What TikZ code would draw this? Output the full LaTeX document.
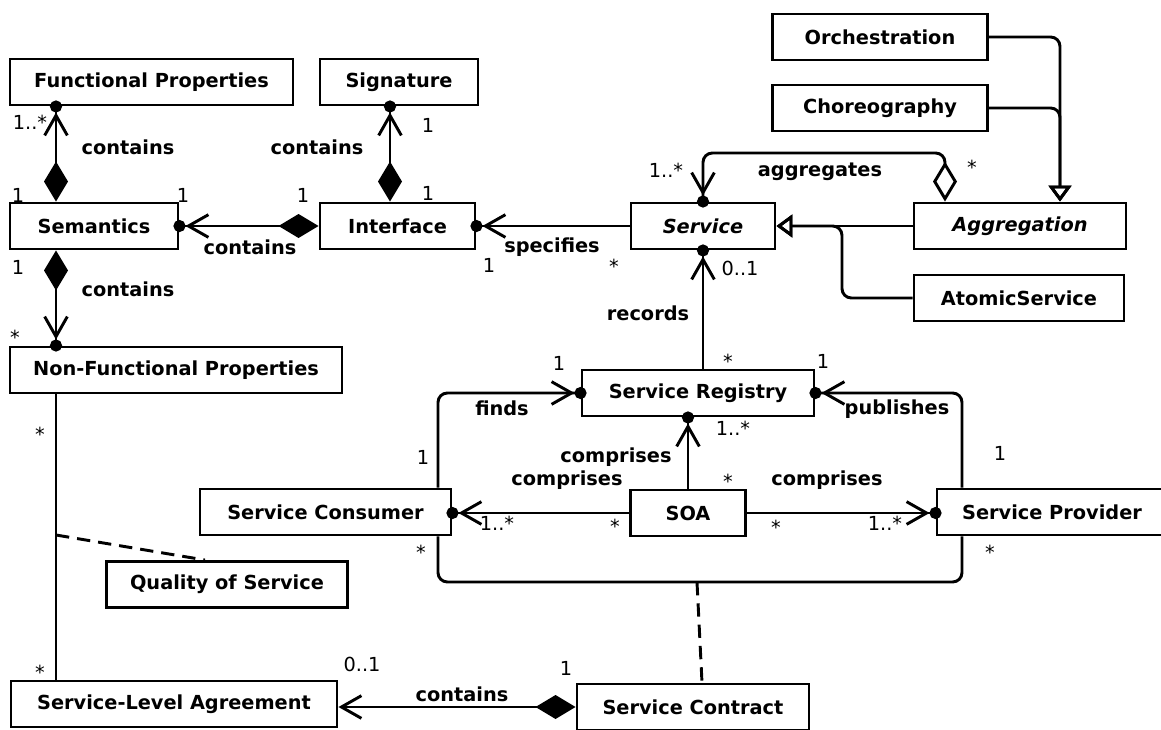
\documentclass[tikz,border=0pt]{standalone}
\usepackage{fontspec}
\setmainfont{DejaVu Sans}
\usetikzlibrary{arrows.meta,calc}

\newcommand{\clsfont}{\fontsize{14.5}{17}\selectfont\bfseries}
\newcommand{\multfont}{\fontsize{14.5}{17}\selectfont}

\tikzset{
  cls/.style={draw, line width=2.2pt, inner sep=0pt, minimum height=34.5pt,
    minimum width=#1*0.75pt, font=\clsfont},
  acls/.style={cls=#1, font=\clsfont\itshape},
  rel/.style={font=\clsfont, inner sep=1pt},
  mult/.style={font=\multfont, inner sep=0pt, anchor=base},
  nav/.style={-{Straight Barb[length=15pt,width=17pt]Circle[length=9pt,sep=-4.5pt]}},
  comp/.style={{Diamond[length=30pt,width=18pt]}-{Straight Barb[length=15pt,width=17pt]Circle[length=9pt,sep=-4.5pt]}},
  aggr/.style={{Diamond[open,length=30pt,width=18pt]}-{Straight Barb[length=15pt,width=17pt]Circle[length=9pt,sep=-4.5pt]}},
  gen/.style={-{Triangle[open,length=12pt,width=17pt]}},
  assocdash/.style={dash pattern=on 10pt off 6pt}
}

\begin{document}
\begin{tikzpicture}[x=0.75pt,y=-0.75pt]
  \useasboundingbox (0,0) rectangle (1161,729);
  \draw
    (151.5,82) node[cls=283] (fp){Functional Properties}
    (399,82) node[cls=158] (sig){Signature}
    (880,37) node[cls=215] (orch){Orchestration}
    (880,108) node[cls=215] (chor){Choreography}
    (94,226) node[cls=168] (sem){Semantics}
    (397.5,226) node[cls=155] (iface){Interface}
    (703,226) node[acls=144] (serv){Service}
    (1020,226) node[acls=212] (agg){Aggregation}
    (1019,298) node[cls=210] (atom){AtomicService}
    (176,370) node[cls=332] (nfp){Non-Functional Properties}
    (698,393) node[cls=232] (reg){Service Registry}
    (325.5,512) node[cls=251] (cons){Service Consumer}
    (688,513) node[cls=115] (soa){SOA}
    (1052,512) node[cls=230] (prov){Service Provider}
    (227,584.5) node[cls=241] (qos){Quality of Service}
    (174,704) node[cls=326] (sla){Service-Level Agreement}
    (693,707) node[cls=232] (contract){Service Contract};
  \coordinate (lx) at (56,0);
  \coordinate (ix) at (390,0);
  \coordinate (aggbend) at (945,153);
  \coordinate (genx) at (1060,0);
  \coordinate (jogx) at (842,0);
  \coordinate (loopl) at (438,582);
  \coordinate (loopr) at (962,582);
  \coordinate (loopm) at (697,582);
  \coordinate (qosm) at (56,535);
  \begin{scope}[line width=2.2pt, rounded corners=7pt]
    \draw[comp] (sem.north -| lx) to (fp.south -| lx);
    \draw[comp] (sem.south -| lx) to (nfp.north -| lx);
    \draw[comp] (iface.north -| ix) to (sig.south -| ix);
    \draw[comp] (iface.west) to (sem.east);
    \draw[nav] (serv.west) to (iface.east);
    \draw[aggr] (agg.north -| aggbend) -- (aggbend) -| (serv.north);
    \draw[gen] (agg.west) to (serv.east);
    \draw[gen] (atom.west) -| (serv.east -| jogx) -- (serv.east);
    \draw[gen] (orch.east) -| (agg.north -| genx);
    \draw[gen] (chor.east) -| (agg.north -| genx);
    \draw[nav] (reg.north -| serv.south) to (serv.south);
    \draw[nav] (cons.north -| loopl) |- (reg.west);
    \draw[nav] (prov.north -| loopr) |- (reg.east);
    \draw[nav] (soa.north) to (reg.south -| soa.north);
    \draw[nav] (soa.west) to (cons.east |- soa.west);
    \draw[nav] (soa.east) to (prov.west |- soa.east);
    \draw (cons.south -| loopl) -- (loopl) -- (loopr) -- (prov.south -| loopr);
    \draw[assocdash] (loopm) to ($(contract.north)+(9,0)$);
    \draw (nfp.south -| lx) to (sla.north -| lx);
    \draw[assocdash] (qosm) to ($(qos.north)+(-22,0)$);
    \draw[{Diamond[length=30pt,width=18pt]}-{Straight Barb[length=15pt,width=17pt]}]
      (contract.west) to (sla.east |- contract.west);
  \end{scope}
  % association names
  \path
    (128,147) node[rel] (r1){contains}
    (317,147) node[rel] (r2){contains}
    (250,247) node[rel] (r3){contains}
    (128,289) node[rel] (r4){contains}
    (552,247) node[rel] (r5){specifies}
    (820,172) node[rel] (r6){aggregates}
    (648,313) node[rel] (r7){records}
    (502,408) node[rel] (r8){finds}
    (897,409) node[rel] (r9){publishes}
    (616,457) node[rel] (r10){comprises}
    (567,480) node[rel] (r11){comprises}
    (827,480) node[rel] (r12){comprises}
    (462,694) node[rel] (r13){contains};
  % multiplicities
  \path
    (30,129) node[mult] (m1){1..*}
    (18,202) node[mult] (m2){1}
    (183,202) node[mult] (m3){1}
    (303,202) node[mult] (m4){1}
    (18,274) node[mult] (m5){1}
    (15,344) node[mult] (m6){*}
    (428,132) node[mult] (m7){1}
    (428,200) node[mult] (m8){1}
    (489,272) node[mult] (m9){1}
    (614,273) node[mult] (m10){*}
    (666,177) node[mult] (m11){1..*}
    (972,174) node[mult] (m12){*}
    (740,275) node[mult] (m13){0..1}
    (728,368) node[mult] (m14){*}
    (559,370) node[mult] (m15){1}
    (823,368) node[mult] (m16){1}
    (733,435) node[mult] (m17){1..*}
    (728,488) node[mult] (m18){*}
    (423,464) node[mult] (m19){1}
    (1000,460) node[mult] (m20){1}
    (497,530) node[mult] (m21){1..*}
    (615,533) node[mult] (m22){*}
    (776,534) node[mult] (m23){*}
    (885,530) node[mult] (m24){1..*}
    (421,559) node[mult] (m25){*}
    (990,559) node[mult] (m26){*}
    (40,441) node[mult] (m27){*}
    (40,679) node[mult] (m28){*}
    (362,671) node[mult] (m29){0..1}
    (566,675) node[mult] (m30){1};
\end{tikzpicture}
\end{document}
